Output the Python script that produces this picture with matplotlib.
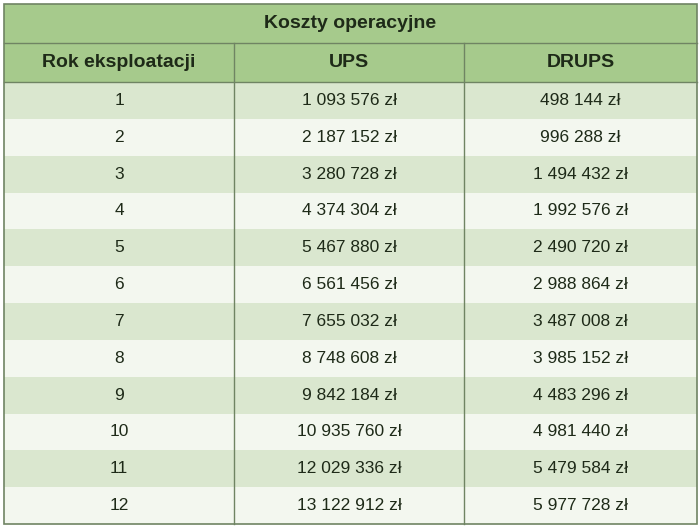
import matplotlib
matplotlib.use("Agg")
import matplotlib.pyplot as plt
from matplotlib.patches import Rectangle

title = "Koszty operacyjne"
headers = ["Rok eksploatacji", "UPS", "DRUPS"]
years = list(range(1, 13))
ups = ["1 093 576 zł", "2 187 152 zł", "3 280 728 zł", "4 374 304 zł", "5 467 880 zł",
       "6 561 456 zł", "7 655 032 zł", "8 748 608 zł", "9 842 184 zł", "10 935 760 zł",
       "12 029 336 zł", "13 122 912 zł"]
drups = ["498 144 zł", "996 288 zł", "1 494 432 zł", "1 992 576 zł", "2 490 720 zł",
         "2 988 864 zł", "3 487 008 zł", "3 985 152 zł", "4 483 296 zł", "4 981 440 zł",
         "5 479 584 zł", "5 977 728 zł"]

fig = plt.figure(figsize=(7, 5.28), dpi=100)
ax = fig.add_axes([0, 0, 1, 1])
ax.set_xlim(0, 700)
ax.set_ylim(528, 0)
ax.axis("off")

L, R = 4, 697
T, H1, H2, B = 4, 43, 82, 524
cols = [L, 234, 464, R]
green = "#a6ca8c"
line = "#6f8463"
odd, even = "#dae7cf", "#f3f7ef"
font = dict(family=["Liberation Sans", "DejaVu Sans"], color="#1e2a18")

ax.add_patch(Rectangle((L, T), R - L, H2 - T, color=green, lw=0))
n = len(years)
rh = (B - H2) / n
for i in range(n):
    y0 = H2 + i * rh
    ax.add_patch(Rectangle((L, y0), R - L, rh, color=odd if i % 2 == 0 else even, lw=0))
    yc = y0 + rh / 2
    for j, txt in enumerate([str(years[i]), ups[i], drups[i]]):
        ax.text((cols[j] + cols[j + 1]) / 2, yc, txt, ha="center", va="center",
                fontsize=12.5, **font)

ax.text((L + R) / 2, (T + H1) / 2, title, ha="center", va="center",
        fontsize=14, fontweight="bold", **font)
for j, h in enumerate(headers):
    ax.text((cols[j] + cols[j + 1]) / 2, (H1 + H2) / 2, h, ha="center", va="center",
            fontsize=14, fontweight="bold", **font)

ax.add_patch(Rectangle((L, T), R - L, B - T, fill=False, ec=line, lw=1.2))
for y in (H1, H2):
    ax.plot([L, R], [y, y], color=line, lw=1)
for x in cols[1:-1]:
    ax.plot([x, x], [H1, B], color=line, lw=1)

fig.savefig("out.png", dpi=100)
